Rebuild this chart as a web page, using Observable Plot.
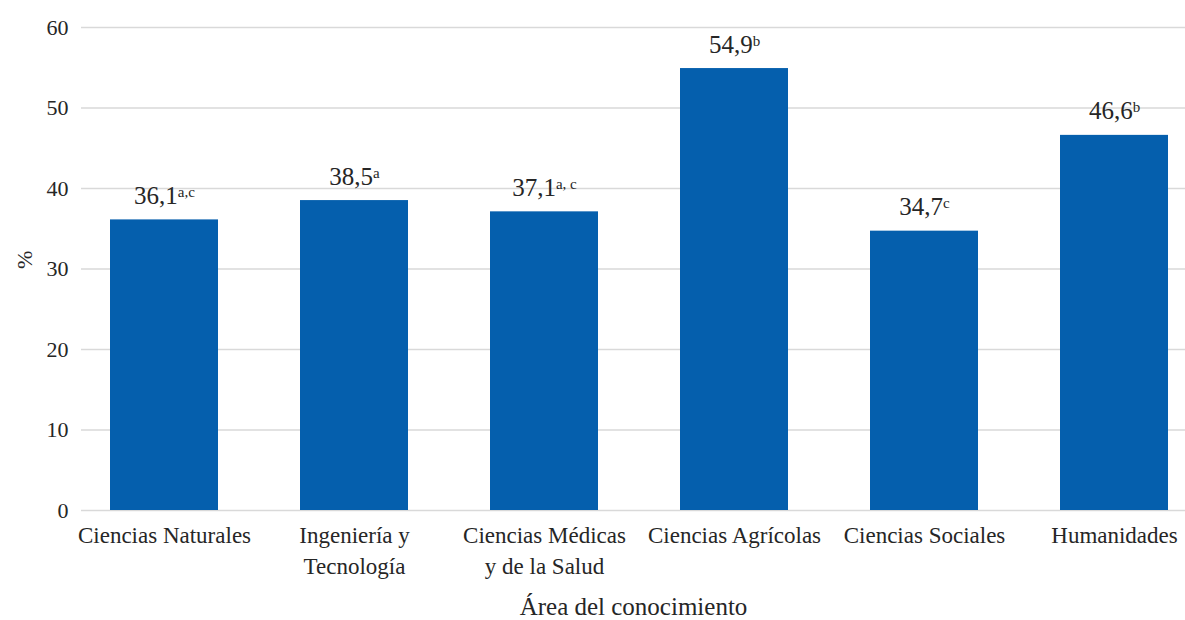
<!DOCTYPE html>
<html><head><meta charset="utf-8">
<script src="https://cdn.jsdelivr.net/npm/d3@7"></script>
<script src="https://cdn.jsdelivr.net/npm/@observablehq/plot@0.6"></script>
<style>
body{margin:0;background:#fff;}
#chart svg, #chart svg text, #chart svg tspan{font-family:'Liberation Serif', serif !important;}
</style></head>
<body><div id="chart"></div>
<script>
const categories = ["Ciencias Naturales","Ingeniería y\nTecnología","Ciencias Médicas\ny de la Salud","Ciencias Agrícolas","Ciencias Sociales","Humanidades"];
const values = [36.1, 38.5, 37.1, 54.9, 34.7, 46.6];
const letters = ["a,c", "a", "a, c", "b", "c", "b"];
const yTicks = [0, 10, 20, 30, 40, 50, 60];

const data = categories.map((c, i) => ({cat: c, v: values[i], sup: letters[i]}));
const FF = "Liberation Serif";

const chart = Plot.plot({
  width: 1185, height: 620,
  marginLeft: 81, marginRight: 0, marginTop: 27, marginBottom: 110,
  style: {fontFamily: FF, color: "#262626", background: "#fff"},
  x: {domain: categories, range: [67, 1211], paddingInner: 0.43, paddingOuter: 0.215, label: null},
  y: {domain: [0, 60], ticks: yTicks, label: null},
  marks: [
    Plot.ruleY(yTicks, {stroke: "#d9d9d9", strokeWidth: 1.3}),
    Plot.barY(data, {x: "cat", y: "v", fill: "#055FAD"}),
    Plot.text(data, {x: "cat", y: "v", text: d => d.v.toFixed(1).replace(".", ","), dy: -16, lineAnchor: "bottom", fontSize: 25, fontFamily: FF, fill: "#262626", className: "vlabel"}),
    Plot.axisY({ticks: yTicks, tickSize: 0, tickPadding: 13, fontSize: 22, fontFamily: FF, label: null, tickFormat: d => d}),
    Plot.axisX({tickSize: 0, tickPadding: 10, fontSize: 23, fontFamily: FF, lineHeight: 1.35, label: null}),
    Plot.text(["Área del conocimiento"], {frameAnchor: "bottom", dy: 104, fontSize: 25, fontFamily: FF, fill: "#262626"}),
    Plot.text(["%"], {frameAnchor: "left", dx: -57, dy: 0, rotate: -90, fontSize: 22, fontFamily: FF, fill: "#262626"})
  ]
});
document.getElementById("chart").appendChild(chart);

// add superscript letters to value labels
d3.select(chart).selectAll(".vlabel text").each(function(i) {
  const t = d3.select(this);
  const txt = t.text();
  t.text(null);
  t.append("tspan").text(txt);
  t.append("tspan").attr("font-size", 15).attr("dy", "-0.47em").text(letters[i]);
});
</script></body></html>
